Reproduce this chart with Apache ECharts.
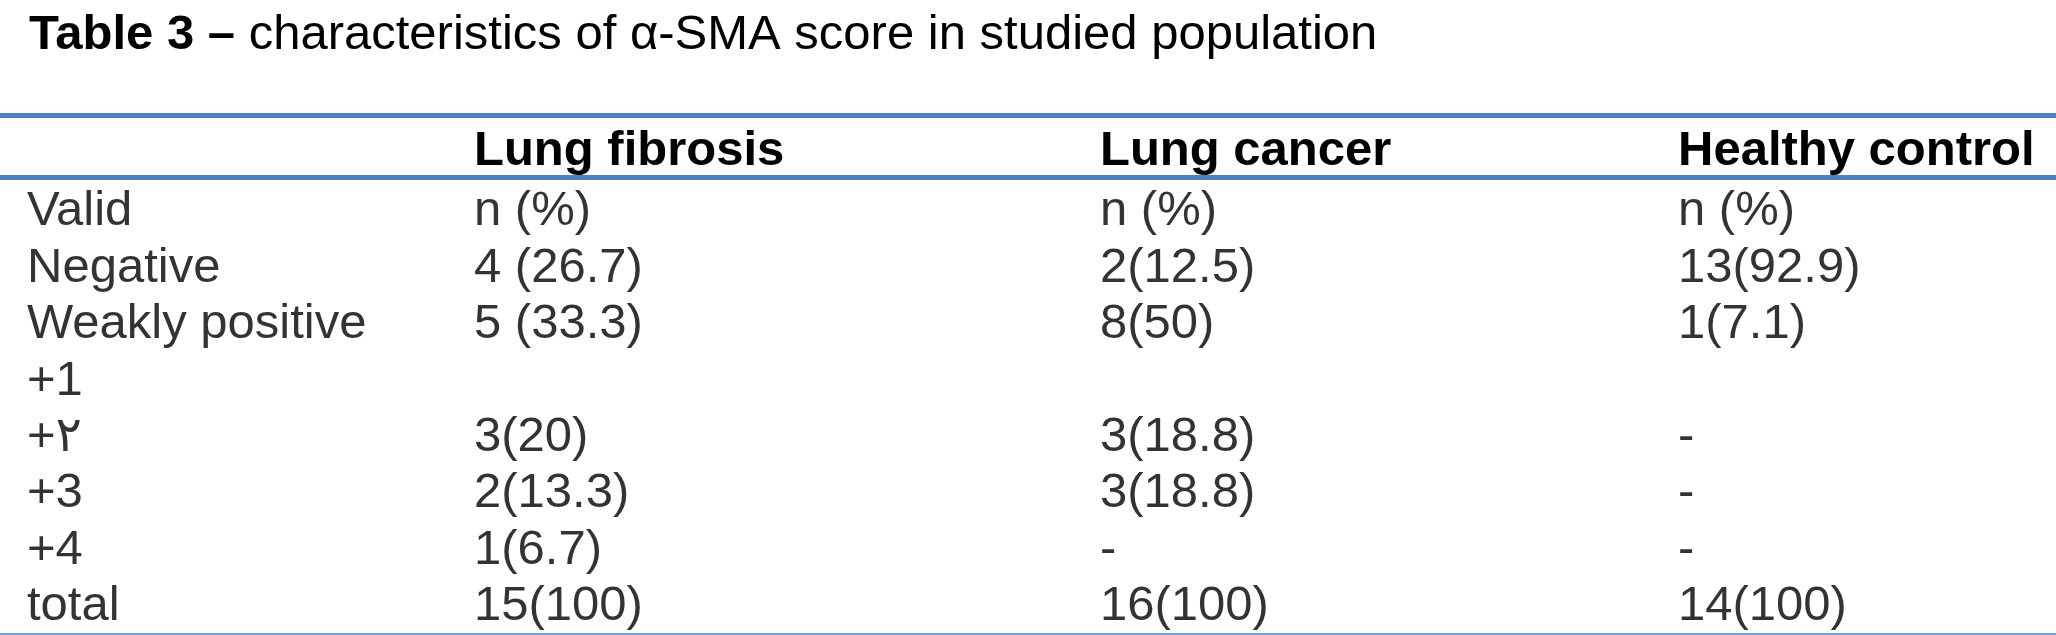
<!DOCTYPE html>
<html lang="en">
<head>
    <meta charset="utf-8">
    <title>Table 3 - alpha-SMA score</title>
    <script src="https://cdn.jsdelivr.net/npm/echarts@6/dist/echarts.min.js"></script>
    <style>
        html, body {
            margin: 0;
            padding: 0;
            background: #fff;
        }

        #container {
            width: 2056px;
            height: 635px;
        }
    </style>
</head>
<body>
<div id="container"></div>
<script>
    // table content
    var headers = ['', 'Lung fibrosis', 'Lung cancer', 'Healthy control'];
    var rowLabels = ['Valid', 'Negative', 'Weakly positive', '+1', '+\u0662', '+3', '+4', 'total'];
    var lungFibrosis = ['n (%)', '4 (26.7)', '5 (33.3)', '', '3(20)', '2(13.3)', '1(6.7)', '15(100)'];
    var lungCancer = ['n (%)', '2(12.5)', '8(50)', '', '3(18.8)', '3(18.8)', '-', '16(100)'];
    var healthyControl = ['n (%)', '13(92.9)', '1(7.1)', '', '-', '-', '-', '14(100)'];

    var columns = [rowLabels, lungFibrosis, lungCancer, healthyControl];

    // layout
    var font = 'Arial, "Liberation Sans", "DejaVu Sans", sans-serif';
    var fontSize = 49;
    var colX = [27, 474, 1100, 1678];
    var rowTop = 183.5;
    var rowH = 57.2;
    var lineColor = '#4F81BD';

    function statTable() {
        var myChart = echarts.init(document.getElementById('container'), null, {renderer: 'canvas'});
        var grids = [], xAxes = [], yAxes = [], series = [], graphics = [];

        columns.forEach(function (cells, c) {
            grids.push({
                left: colX[c],
                top: rowTop,
                width: 10,
                height: rowH * rowLabels.length
            });
            xAxes.push({gridIndex: c, type: 'value', min: 0, max: 1, show: false});
            yAxes.push({gridIndex: c, type: 'category', data: rowLabels, inverse: true, show: false});
            var data = [];
            cells.forEach(function (t, j) {
                if (t !== '') data.push({value: [0, j], text: t});
            });
            series.push({
                type: 'scatter',
                xAxisIndex: c,
                yAxisIndex: c,
                symbolSize: 0,
                silent: true,
                data: data,
                label: {
                    show: true,
                    position: 'right',
                    distance: 0,
                    padding: 0,
                    color: '#000',
                    fontFamily: font,
                    fontSize: fontSize,
                    formatter: function (p) {
                        return p.data.text;
                    }
                }
            });
            if (headers[c]) {
                graphics.push({
                    type: 'text',
                    left: colX[c],
                    top: 127,
                    style: {
                        text: headers[c],
                        fill: '#000',
                        font: 'bold ' + fontSize + 'px ' + font
                    }
                });
            }
        });

        graphics.push({
            type: 'line',
            shape: {x1: 0, y1: 115.5, x2: 2056, y2: 115.5},
            style: {stroke: lineColor, lineWidth: 5}
        });
        graphics.push({
            type: 'line',
            shape: {x1: 0, y1: 177.5, x2: 2056, y2: 177.5},
            style: {stroke: lineColor, lineWidth: 5}
        });
        graphics.push({
            type: 'line',
            shape: {x1: 0, y1: 634, x2: 2056, y2: 634},
            style: {stroke: '#75A3DC', lineWidth: 2}
        });

        var option = {
            backgroundColor: '#fff',
            animation: false,
            title: {
                text: '{b|Table 3 \u2013} characteristics of \u03b1-SMA score in studied population',
                left: 29,
                top: 7,
                padding: 0,
                textStyle: {
                    fontFamily: font,
                    fontSize: fontSize,
                    fontWeight: 'normal',
                    color: '#000',
                    lineHeight: 56,
                    rich: {
                        b: {
                            fontFamily: font,
                            fontSize: fontSize,
                            fontWeight: 'bold',
                            color: '#000',
                            lineHeight: 56
                        }
                    }
                }
            },
            grid: grids,
            xAxis: xAxes,
            yAxis: yAxes,
            series: series,
            graphic: graphics
        };
        myChart.setOption(option);
    }

    statTable();
</script>
</body>
</html>
